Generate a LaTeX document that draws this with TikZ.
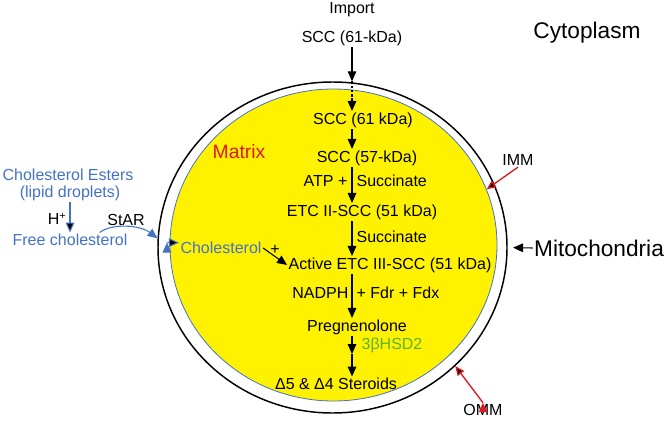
\documentclass[tikz,border=0pt]{standalone}
\usepackage{fontspec}
\setmainfont{Liberation Sans}
\usepackage{xcolor}
\usepackage{tikz}
\usetikzlibrary{arrows.meta}
\usetikzlibrary{shapes.geometric}
\usetikzlibrary{positioning}
\definecolor{cholblue}{RGB}{68,114,196}
\definecolor{matred}{RGB}{222,24,30}
\definecolor{hsdgreen}{RGB}{96,178,52}
\tikzset{
     txt/.style={
           font=\fontsize{12}{14}\selectfont,
           inner sep=1pt,
           },
     bigtxt/.style={
           font=\fontsize{17}{20}\selectfont,
           inner sep=1pt,
           },
     pathway/.style={
           -{Triangle[length=7.5pt,width=6.5pt]},
           line width=0.8pt,
           },
     bluflow/.style={
           pathway,
           draw=cholblue,
           %fill=cholblue,
           },
     pointer/.style={
           -{Triangle[length=7pt,width=6pt]},
           line width=1pt,
           draw=matred,
           },
}

\begin{document}
\begin{tikzpicture}[x=0.75pt,y=-0.75pt]
	\useasboundingbox (0,0) rectangle (666,424);
	\coordinate (axis) at (352,0);

	%membranes
	\node[ellipse, draw=black, line width=1.1pt, inner sep=0pt,
		minimum width=261.75pt, minimum height=248.25pt] (omm) at (332.5,247.5) {};
	\node[ellipse, draw=cholblue, fill=yellow, line width=0.6pt, inner sep=0pt,
		minimum width=245.25pt, minimum height=234pt] (imm) at (333.5,245) {};

	%outside
	\node[txt] (import) at (352,10) {Import};
	\node[txt] (scc0) at (352,38) {SCC (61-kDa)};
	\node[bigtxt] (cyto) at (587,33) {Cytoplasm};
	\node[bigtxt] (mito) at (599,248) {Mitochondria};
	\node[txt] (immlbl) at (518,160) {IMM};
	\node[txt] (ommlbl) at (483,410) {OMM};

	\node[txt, text=cholblue] (esters) at (68,175) {Cholesterol Esters};
	\node[txt, text=cholblue] (lipid) at (70,193) {(lipid droplets)};
	\node[txt] (hplus) at (57,219) {H\textsuperscript{+}};
	\node[txt, text=cholblue] (free) at (70,240) {Free cholesterol};
	\node[txt] (star) at (126,220) {StAR};

	%matrix
	\node[txt, font=\fontsize{14.5}{17}\selectfont, text=matred] (matrix) at (239,152) {Matrix};
	\node[txt] (scc1) at (363,120) {SCC (61 kDa)};
	\node[txt] (scc2) at (367,158) {SCC (57-kDa)};
	\node[txt, anchor=east] (atp) at (349,181) {ATP +};
	\node[txt, anchor=west] (succ1) at (355,181) {Succinate};
	\node[txt] (etc2) at (362,212) {ETC II-SCC (51 kDa)};
	\node[txt, anchor=west] (succ2) at (355,237) {Succinate};
	\node[txt, text=cholblue] (chol) at (221,248) {Cholesterol};
	\node[txt] (cplus) at (275,250) {+};
	\node[txt] (active) at (390,265) {Active ETC III-SCC (51 kDa)};
	\node[txt, anchor=east] (nadph) at (350,293) {NADPH};
	\node[txt, anchor=west] (fdx) at (355,293) {+ Fdr + Fdx};
	\node[txt] (preg) at (357,327) {Pregnenolone};
	\node[txt, anchor=west, text=hsdgreen] (hsd) at (360,345) {3βHSD2};
	\coordinate (hsdmid) at (352,354);
	\node[txt] (steroids) at (336,384) {Δ5 \& Δ4 Steroids};

	%EDGES

	\path[pathway]	(scc0.south -| axis) edge (axis |- omm.north)
			(scc1.south -| axis) edge (scc2.north -| axis)
			(scc2.south -| axis) edge (etc2.north -| axis)
			(etc2.south -| axis) edge (active.north -| axis)
			(active.south -| axis) edge (preg.north -| axis)
			(preg.south -| axis) edge (hsdmid)
			(hsdmid) edge (steroids.north -| axis)
			(chol.east) edge (active.west);
	\path[pathway, dash pattern=on 2pt off 1.2pt]	(axis |- omm.north) edge (scc1.north -| axis);
	\path[pathway, shorten >=4pt]	(mito.west) edge (omm.east);

	\path[bluflow]	(lipid.south) edge (free.north)
			([xshift=-9pt,yshift=4pt]chol.west) edge ([yshift=4pt]chol.west);
	\draw[bluflow]	([xshift=-22pt]free.north east) .. controls (112,223) and (140,225) .. (omm.177);

	\path[pointer]	(immlbl.south) edge (imm.20)
			(ommlbl.north) edge (omm.-44);

\end{tikzpicture}
\end{document}
